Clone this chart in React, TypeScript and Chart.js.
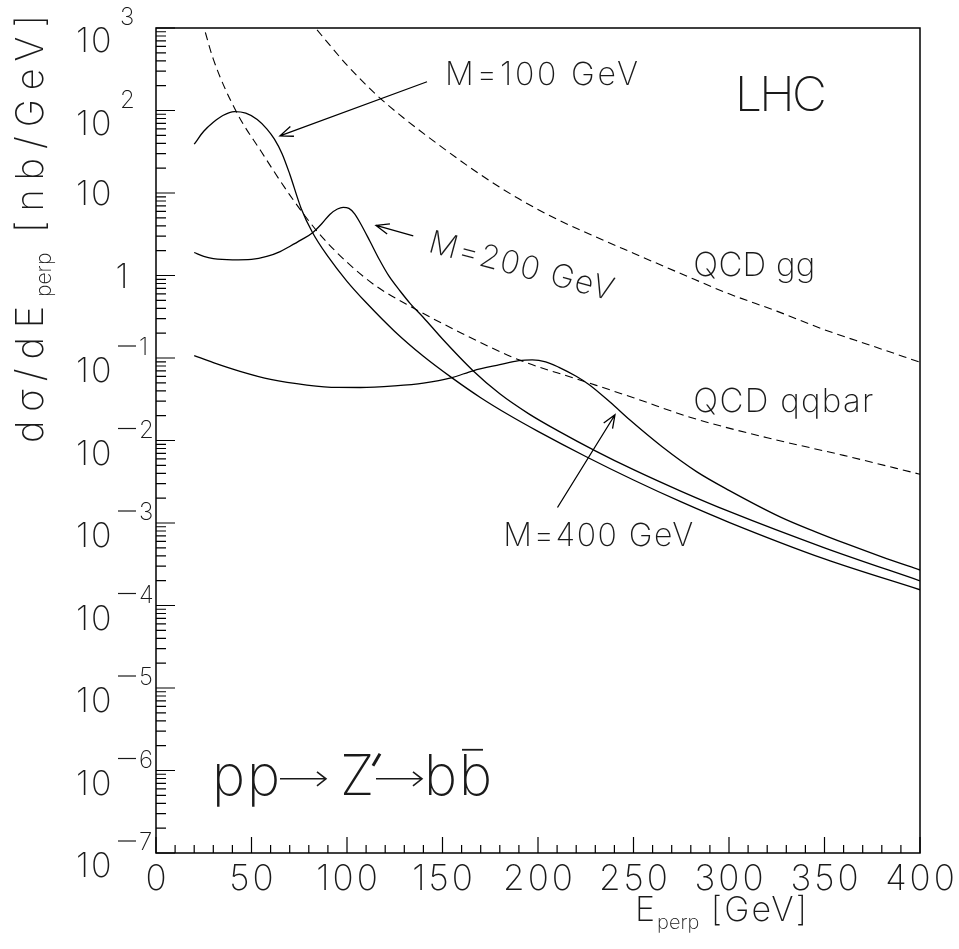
import React, { useEffect, useRef } from "react";
import { Chart, registerables } from "chart.js";

Chart.register(...registerables);

// ---------------- data ----------------
const m100E = [20, 25, 30, 35, 41, 47, 53, 58, 62, 66, 70, 76, 82, 90, 100, 110, 125, 140, 155, 170, 185, 200, 225, 250, 275, 300, 350, 400];
const m100Sigma = [39, 56, 72, 87, 97, 93, 78, 60, 45, 30, 17, 6.5, 3.3, 1.7, 0.85, 0.47, 0.21, 0.105, 0.0574, 0.033, 0.0202, 0.0129, 0.0064, 0.00332, 0.0018, 0.00102, 3.67e-4, 1.55e-4];

const m200E = [20, 25, 30, 40, 50, 58, 65, 70, 76, 82, 87, 91, 95, 98, 101, 104, 107, 112, 117, 122, 128, 133, 140, 150, 166, 180, 195, 211, 230, 250, 275, 300, 350, 400];
const m200Sigma = [1.9, 1.7, 1.6, 1.55, 1.57, 1.7, 1.95, 2.25, 2.7, 3.3, 4.3, 5.5, 6.4, 6.7, 6.5, 5.6, 4.3, 2.6, 1.55, 0.98, 0.64, 0.46, 0.31, 0.17, 0.0702, 0.0368, 0.0212, 0.0129, 0.0075, 0.00443, 0.00242, 0.00138, 5.0e-4, 1.99e-4];

const m400E = [20, 30, 44, 60, 79, 95, 107, 125, 140, 155, 166, 180, 190, 197, 204, 211, 220, 227, 238, 248, 265, 283, 300, 327, 345, 362, 380, 400];
const m400Sigma = [0.107, 0.088, 0.069, 0.055, 0.047, 0.044, 0.0439, 0.046, 0.0497, 0.058, 0.07, 0.083, 0.093, 0.095, 0.09, 0.077, 0.06, 0.0471, 0.0288, 0.0178, 0.0084, 0.0042, 0.00249, 0.00118, 7.87e-4, 5.53e-4, 3.89e-4, 2.69e-4];

const qcdGgE = [80, 90, 100, 115, 130, 150, 170, 190, 210, 230, 250, 275, 300, 325, 350, 375, 400];
const qcdGgSigma = [1260, 660, 355, 158, 80, 35.5, 16.6, 8.5, 4.8, 2.95, 1.86, 1.05, 0.6, 0.37, 0.22, 0.14, 0.089];

const qcdQqE = [24, 30, 42, 55, 70, 85, 100, 115, 135, 160, 190, 220, 250, 280, 320, 360, 400];
const qcdQqSigma = [1250, 420, 97, 32, 9.5, 3.3, 1.45, 0.75, 0.4, 0.2, 0.095, 0.056, 0.033, 0.019, 0.0108, 0.0066, 0.0039];

const xTickValues = [0, 50, 100, 150, 200, 250, 300, 350, 400];
const yTickExponents = [3, 2, 1, 0, -1, -2, -3, -4, -5, -6, -7];

// annotation anchors in data units (E_perp, dsigma/dE)
const curveLabels = [
  { text: "M=100 GeV", e: 151.3, s: 205, width: 193, size: 32, angle: 0 },
  { text: "M=200 GeV", e: 141.9, s: 1.95, width: 190, size: 32, angle: 15 },
  { text: "M=400 GeV", e: 181.8, s: 5.19e-4, width: 190, size: 32, angle: 0 },
  { text: "QCD gg", e: 281.3, s: 0.99, width: 122, size: 33, angle: 0 },
  { text: "QCD qqbar", e: 281.3, s: 0.0223, width: 180, size: 33, angle: 0 },
  { text: "LHC", e: 303.1, s: 97.3, width: 92, size: 48, angle: 0 },
];
const arrowSpecs = [
  { fromE: 141.9, fromS: 223, toE: 64.9, toS: 49.3 },
  { fromE: 134.7, fromS: 3.03, toE: 115.2, toS: 4.04 },
  { fromE: 210.2, fromS: 1.54e-3, toE: 240.3, toS: 0.0205 },
];
const processAnchor = { e: 31.4, s: 5.08e-7 };

// ---------------- helpers ----------------
const FAMILY = "Inter, Roboto, 'Liberation Sans', 'DejaVu Sans', sans-serif";
const WEIGHT = "250";
const TEXT_COLOR = "#1a1a1a";

function setFont(ctx: CanvasRenderingContext2D, size: number, weight = WEIGHT) {
  ctx.font = `${weight} ${size}px ${FAMILY}`;
}

type Seg = { text: string; size: number; dy: number; spread: boolean };

function measurePlain(ctx: CanvasRenderingContext2D, s: Seg) {
  (ctx as any).letterSpacing = "0px";
  setFont(ctx, s.size);
  return ctx.measureText(s.text).width;
}

function drawRich(ctx: CanvasRenderingContext2D, segs: Seg[], targetWidth: number) {
  let natural = 0;
  let spreadChars = 0;
  for (const s of segs) {
    natural += measurePlain(ctx, s);
    if (s.spread) spreadChars += [...s.text].length;
  }
  const sp = spreadChars > 1 ? (targetWidth - natural) / (spreadChars - 1) : 0;
  let x = 0;
  for (const s of segs) {
    const w = measurePlain(ctx, s);
    const ls = s.spread ? sp : 0;
    (ctx as any).letterSpacing = `${ls}px`;
    ctx.fillText(s.text, x, s.dy);
    x += w + ls * [...s.text].length;
  }
  (ctx as any).letterSpacing = "0px";
}

function fitText(ctx: CanvasRenderingContext2D, text: string, size: number, width: number) {
  drawRich(ctx, [{ text, size, dy: 0, spread: true }], width);
}

const decorPlugin = {
  id: "decor",
  afterDatasetsDraw(chart: any) {
    const ctx: CanvasRenderingContext2D = chart.ctx;
    const xs = chart.scales.x;
    const ys = chart.scales.y;
    const { left, right, top, bottom } = chart.chartArea;
    ctx.save();
    ctx.strokeStyle = "#000";
    ctx.fillStyle = TEXT_COLOR;

    // frame
    ctx.lineWidth = 1.5;
    ctx.strokeRect(left, top, right - left, bottom - top);

    // ticks
    ctx.lineWidth = 1.2;
    ctx.beginPath();
    for (let v = 0; v <= 400; v += 10) {
      const px = xs.getPixelForValue(v);
      const len = v % 50 === 0 ? 16 : 8;
      ctx.moveTo(px, bottom);
      ctx.lineTo(px, bottom - len);
    }
    for (let ex = -7; ex <= 2; ex++) {
      for (let m = 1; m <= 9; m++) {
        const py = ys.getPixelForValue(m * Math.pow(10, ex));
        const len = m === 1 ? 19 : 10;
        ctx.moveTo(left, py);
        ctx.lineTo(left + len, py);
      }
    }
    const pTop = ys.getPixelForValue(1000);
    ctx.moveTo(left, pTop);
    ctx.lineTo(left + 19, pTop);
    ctx.stroke();

    // x tick labels
    setFont(ctx, 35);
    ctx.textAlign = "center";
    ctx.textBaseline = "alphabetic";
    (ctx as any).letterSpacing = "3px";
    for (const v of xTickValues) {
      ctx.fillText(String(v), xs.getPixelForValue(v) + 1.5, bottom + 37);
    }
    (ctx as any).letterSpacing = "0px";

    // y tick labels
    for (const ex of yTickExponents) {
      const py = ys.getPixelForValue(Math.pow(10, ex));
      if (ex === 0) {
        setFont(ctx, 34);
        ctx.textAlign = "center";
        ctx.fillText("1", left - 34, py + 12);
        continue;
      }
      setFont(ctx, 34);
      ctx.textAlign = "left";
      (ctx as any).letterSpacing = "2px";
      if (ex === 1) {
        ctx.fillText("10", left - 80, py + 12);
        (ctx as any).letterSpacing = "0px";
        continue;
      }
      ctx.fillText("10", left - 80, py + 24);
      (ctx as any).letterSpacing = "0px";
      setFont(ctx, 24);
      if (ex > 0) {
        ctx.fillText(String(ex), left - 36, py - 3);
      } else {
        ctx.lineWidth = 1.2;
        ctx.beginPath();
        ctx.moveTo(left - 38, py - 12);
        ctx.lineTo(left - 20, py - 12);
        ctx.strokeStyle = TEXT_COLOR;
        ctx.stroke();
        ctx.fillText(String(-ex), left - 17, py - 3);
      }
    }

    // axis titles
    ctx.textAlign = "left";
    ctx.save();
    ctx.translate(635, bottom + 68);
    drawRich(
      ctx,
      [
        { text: "E", size: 34, dy: 0, spread: true },
        { text: "perp", size: 20, dy: 8, spread: false },
        { text: " [GeV]", size: 34, dy: 0, spread: true },
      ],
      172
    );
    ctx.restore();

    ctx.save();
    ctx.translate(43, 443);
    ctx.rotate(-Math.PI / 2);
    drawRich(
      ctx,
      [
        { text: "dσ/dE", size: 38, dy: 0, spread: true },
        { text: "perp", size: 21, dy: 8, spread: false },
        { text: " [nb/GeV]", size: 38, dy: 0, spread: true },
      ],
      428
    );
    ctx.restore();

    // curve labels
    for (const l of curveLabels) {
      ctx.save();
      ctx.translate(xs.getPixelForValue(l.e), ys.getPixelForValue(l.s));
      ctx.rotate((l.angle * Math.PI) / 180);
      fitText(ctx, l.text, l.size, l.width);
      ctx.restore();
    }

    // arrows
    ctx.strokeStyle = "#000";
    ctx.lineWidth = 1.3;
    for (const a of arrowSpecs) {
      const x1 = xs.getPixelForValue(a.fromE);
      const y1 = ys.getPixelForValue(a.fromS);
      const x2 = xs.getPixelForValue(a.toE);
      const y2 = ys.getPixelForValue(a.toS);
      const ang = Math.atan2(y2 - y1, x2 - x1);
      const hl = 14;
      ctx.beginPath();
      ctx.moveTo(x1, y1);
      ctx.lineTo(x2, y2);
      ctx.moveTo(x2 + hl * Math.cos(ang + Math.PI - 0.38), y2 + hl * Math.sin(ang + Math.PI - 0.38));
      ctx.lineTo(x2, y2);
      ctx.lineTo(x2 + hl * Math.cos(ang + Math.PI + 0.38), y2 + hl * Math.sin(ang + Math.PI + 0.38));
      ctx.stroke();
    }

    // process label: pp -> Z' -> b bbar
    const bx = xs.getPixelForValue(processAnchor.e);
    const by = ys.getPixelForValue(processAnchor.s);
    setFont(ctx, 56);
    ctx.textAlign = "left";
    (ctx as any).letterSpacing = "2px";
    ctx.fillText("pp", bx - 4, by);
    (ctx as any).letterSpacing = "0px";
    const drawArrowGlyph = (x0: number, x1: number, yy: number) => {
      ctx.save();
      ctx.strokeStyle = TEXT_COLOR;
      ctx.lineWidth = 1.6;
      ctx.beginPath();
      ctx.moveTo(x0, yy);
      ctx.lineTo(x1, yy);
      ctx.moveTo(x1 - 9, yy - 7);
      ctx.lineTo(x1, yy);
      ctx.lineTo(x1 - 9, yy + 7);
      ctx.stroke();
      ctx.restore();
    };
    drawArrowGlyph(bx + 64, bx + 110, by - 16);
    setFont(ctx, 56);
    ctx.fillText("Z", bx + 124, by);
    ctx.save();
    ctx.lineWidth = 3;
    ctx.strokeStyle = TEXT_COLOR;
    ctx.beginPath();
    ctx.moveTo(bx + 164, by - 41);
    ctx.lineTo(bx + 157, by - 29);
    ctx.stroke();
    ctx.restore();
    drawArrowGlyph(bx + 160, bx + 206, by - 16);
    ctx.fillText("b", bx + 208, by);
    ctx.fillText("b", bx + 243, by);
    ctx.lineWidth = 1.8;
    ctx.strokeStyle = TEXT_COLOR;
    ctx.beginPath();
    ctx.moveTo(bx + 246, by - 45);
    ctx.lineTo(bx + 267, by - 45);
    ctx.stroke();

    ctx.restore();
  },
};

function pts(xs: number[], ys: number[]) {
  return xs.map((x, i) => ({ x, y: ys[i] }));
}

export default function App() {
  const canvasRef = useRef<HTMLCanvasElement | null>(null);

  useEffect(() => {
    const canvas = canvasRef.current;
    if (!canvas) return;
    const solid = (label: string, xs: number[], ys: number[]) => ({
      label,
      data: pts(xs, ys),
      borderColor: "#000",
      borderWidth: 1.3,
      pointRadius: 0,
      fill: false,
      cubicInterpolationMode: "monotone" as const,
    });
    const dashed = (label: string, xs: number[], ys: number[]) => ({
      ...solid(label, xs, ys),
      borderWidth: 1.1,
      borderDash: [8, 5],
    });
    const chart = new Chart(canvas, {
      type: "line",
      data: {
        datasets: [
          solid("M=100 GeV", m100E, m100Sigma),
          solid("M=200 GeV", m200E, m200Sigma),
          solid("M=400 GeV", m400E, m400Sigma),
          dashed("QCD gg", qcdGgE, qcdGgSigma),
          dashed("QCD qqbar", qcdQqE, qcdQqSigma),
        ],
      },
      options: {
        responsive: false,
        devicePixelRatio: 1,
        animation: false,
        parsing: false,
        normalized: true,
        layout: { padding: { left: 156, right: 39, top: 28, bottom: 96 } },
        scales: {
          x: { type: "linear", min: 0, max: 400, display: false },
          y: { type: "logarithmic", min: 1e-7, max: 1e3, display: false },
        },
        plugins: {
          legend: { display: false },
          tooltip: { enabled: false },
        },
        events: [],
      },
      plugins: [decorPlugin],
    });
    return () => chart.destroy();
  }, []);

  return (
    <div style={{ position: "absolute", left: 0, top: 0, width: 959, height: 949, background: "#fff" }}>
      <canvas ref={canvasRef} width={959} height={949} style={{ display: "block" }} />
    </div>
  );
}
